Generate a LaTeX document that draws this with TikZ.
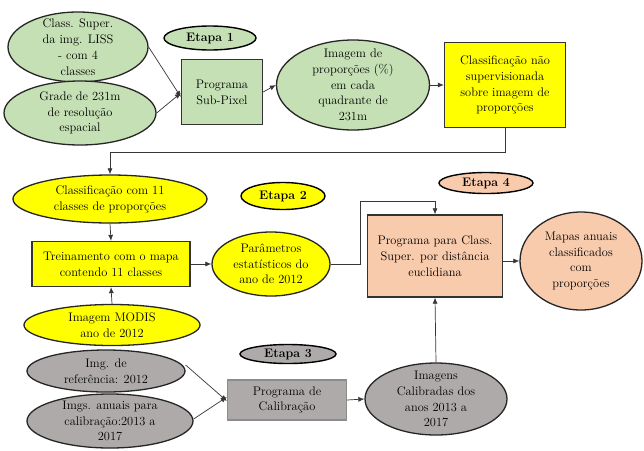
\documentclass[tikz,border=0pt]{standalone}
\usetikzlibrary{shapes.geometric,arrows.meta}
\definecolor{grn}{RGB}{197,224,180}
\definecolor{ylw}{RGB}{255,255,0}
\definecolor{gry}{RGB}{174,170,170}
\definecolor{pch}{RGB}{248,203,173}
\definecolor{edge}{RGB}{55,55,55}
\begin{document}
\begin{tikzpicture}[x=1pt,y=-1pt,
  txt/.style={align=center,font=\rmfamily\fontsize{12.4}{15.8}\selectfont,text=black},
  ell/.style={ellipse,draw=black!85,line width=1.3pt,inner sep=0pt},
  box/.style={rectangle,draw=black!80,line width=1.3pt,inner sep=0pt},
  etapa/.style={ellipse,draw=black,line width=1.4pt,inner sep=0pt,font=\rmfamily\fontsize{12.4}{15.8}\selectfont\bfseries},
  arr/.style={draw=edge,line width=0.7pt,-{Latex[length=6pt,width=5pt]}}
]
\useasboundingbox[fill=white] (0,0) rectangle (644,450);

% Etapa 1
\node[ell,fill=grn,minimum width=140,minimum height=70,
  label={[txt]center:{Class. Super.\\da img. LISS\\- com 4\\classes}}] (e1) at (78,47) {};
\node[ell,fill=grn,minimum width=152,minimum height=64,
  label={[txt]center:{Grade de 231m\\de resolução\\espacial}}] (e2) at (80,113) {};
\node[etapa,fill=grn,minimum width=92,minimum height=24] (t1) at (210,38) {Etapa 1};
\node[box,fill=grn,minimum width=81,minimum height=65,txt] (sp) at (222,92) {Programa\\Sub-Pixel};
\node[ell,fill=grn,minimum width=153,minimum height=90,
  label={[txt]center:{Imagem de\\proporções (\%)\\em cada\\quadrante de\\231m}}] (e3) at (353,85) {};
\node[box,fill=ylw,minimum width=121,minimum height=85,txt] (ns) at (505,85) {Classificação não\\supervisionada\\sobre imagem de\\proporções};

% Etapa 2
\node[ell,fill=ylw,minimum width=194,minimum height=48,
  label={[txt]center:{Classificação com 11\\classes de proporções}}] (c11) at (110,199) {};
\node[etapa,fill=ylw,minimum width=84,minimum height=27] (t2) at (283,196) {Etapa 2};
\node[box,fill=ylw,minimum width=158,minimum height=45,txt] (tr) at (111,264) {Treinamento com o mapa\\contendo 11 classes};
\node[ell,fill=ylw,minimum width=118,minimum height=64,
  label={[txt]center:{Parâmetros\\estatísticos do\\ano de 2012}}] (par) at (271,264) {};
\node[ell,fill=ylw,minimum width=176,minimum height=41,
  label={[txt]center:{Imagem MODIS\\ano de 2012}}] (mod) at (112,325) {};

% Etapa 4
\node[etapa,fill=pch,minimum width=94,minimum height=21] (t4) at (486,183) {Etapa 4};
\node[box,fill=pch,minimum width=135,minimum height=82,txt] (pc) at (435,256) {Programa para Class.\\Super. por distância\\euclidiana};
\node[ell,fill=pch,minimum width=122,minimum height=98,
  label={[txt]center:{Mapas anuais\\classificados\\com\\proporções}}] (map) at (581,261) {};

% Etapa 3
\node[etapa,fill=gry,minimum width=96,minimum height=19] (t3) at (288,354) {Etapa 3};
\node[ell,fill=gry,minimum width=158,minimum height=42,
  label={[txt]center:{Img. de\\referência: 2012}}] (ref) at (106,371) {};
\node[ell,fill=gry,minimum width=166,minimum height=54,
  label={[txt]center:{Imgs. anuais para\\calibração:2013 a\\2017}}] (anu) at (110,421) {};
\node[box,draw=black!45,fill=gry,minimum width=119,minimum height=40,txt] (cal) at (287,400) {Programa de\\Calibração};
\node[ell,fill=gry,minimum width=142,minimum height=72,
  label={[txt]center:{Imagens\\Calibradas dos\\anos 2013 a\\2017}}] (ic) at (436,399) {};

% connectors
\draw[arr] (e1.east) -- ([yshift=-5]sp.west);
\draw[arr] (e2.east) -- ([yshift=-1]sp.west);
\draw[arr] (sp.east) -- (e3.west);
\draw[arr] (e3.east) -- (ns.west);
\coordinate (k1) at (ns.south |- 0,152);
\coordinate (k2) at (c11.north |- 0,152);
\draw[arr] (ns.south) -- (k1) -- (k2) -- (c11.north);
\draw[arr] (c11.south) -- (tr.north);
\draw[arr] (mod.north) -- (tr.south);
\draw[arr] (tr.east) -- (par.west);
\coordinate (k3) at (360,264);
\coordinate (k4) at (360,201);
\coordinate (k5) at (pc.north |- 0,201);
\draw[arr] (par.east) -- (k3) -- (k4) -- (k5) -- (pc.north);
\draw[arr] (pc.east |- map.west) -- (map.west);
\draw[arr] (ic.north) -- (pc.south);
\draw[arr] ([yshift=6]ref.east) -- ([yshift=-1]cal.west);
\draw[arr] ([yshift=2]anu.east) -- ([yshift=3]cal.west);
\draw[arr] (cal.east) -- (ic.west);
\end{tikzpicture}
\end{document}
